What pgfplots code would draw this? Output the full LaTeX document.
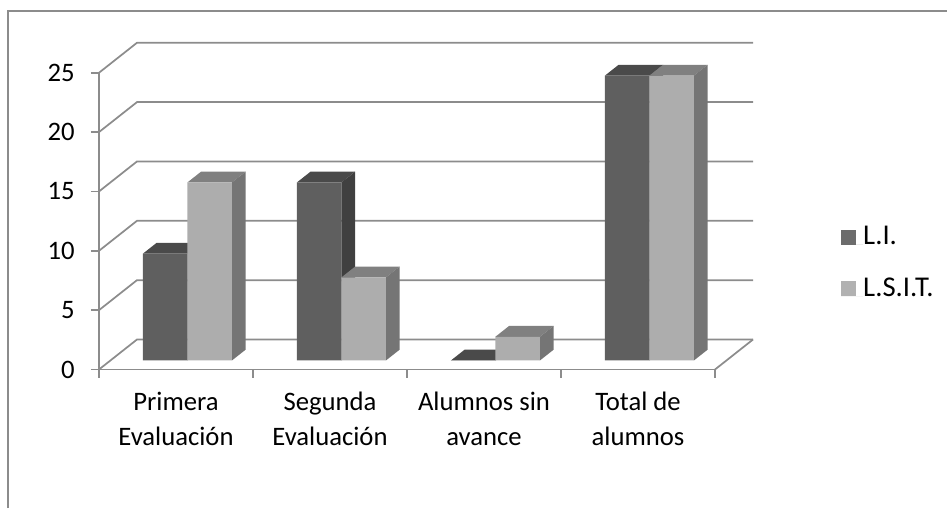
\documentclass[border=0pt]{standalone}
\usepackage{pgfplots}
\pgfplotsset{compat=1.18}
\usepackage{fontspec}
\setmainfont{Carlito}

\definecolor{darkfront}{HTML}{5F5F5F}
\definecolor{darktop}{HTML}{4A4A4A}
\definecolor{darkside}{HTML}{404040}
\definecolor{lightfront}{HTML}{ADADAD}
\definecolor{lighttop}{HTML}{808080}
\definecolor{lightside}{HTML}{757575}
\definecolor{gridgray}{HTML}{8C8C8C}

% one bar: x from, x to, value, colour prefix
\newcommand{\cuboid}[4]{
  \addplot3[fill=#4top,draw=none] coordinates {(#1,0.3,#3) (#2,0.3,#3) (#2,0.66,#3) (#1,0.66,#3) (#1,0.3,#3)};
  \addplot3[fill=#4side,draw=none] coordinates {(#2,0.3,0) (#2,0.66,0) (#2,0.66,#3) (#2,0.3,#3) (#2,0.3,0)};
  \addplot3[fill=#4front,draw=none] coordinates {(#1,0.3,0) (#2,0.3,0) (#2,0.3,#3) (#1,0.3,#3) (#1,0.3,0)};
}

\begin{document}
\begin{tikzpicture}[x=0.75pt,y=0.75pt]
  \useasboundingbox (0,0) rectangle (947,508);
  \draw[gridgray,line width=1.3pt] (8,0) -- (8,497) -- (947,497);

  % walls, floor and bars
  \begin{axis}[
      at={(74.25pt,103.875pt)},anchor=south west,
      x={(115.5pt,0pt)},y={(28.5pt,22.5pt)},z={(0pt,8.9025pt)},
      xmin=-0.5,xmax=3.5,ymin=0,ymax=1,zmin=0,zmax=25,
      hide axis,clip=false,
    ]
    \pgfplotsinvokeforeach{0,5,10,15,20,25}{
      \addplot3[gridgray,line width=1.3pt] coordinates {(-0.5,0,#1) (-0.5,1,#1) (3.5,1,#1)};
    }
    \addplot3[gridgray,line width=1.3pt] coordinates {(3.5,1,0) (3.5,0,0)};

    \cuboid{-0.289}{0}{9}{dark}
    \cuboid{0}{0.289}{15}{light}
    \cuboid{0.711}{1}{15}{dark}
    \cuboid{1}{1.289}{7}{light}
    \cuboid{1.711}{2}{0}{dark}
    \cuboid{2}{2.289}{2}{light}
    \cuboid{2.711}{3}{24}{dark}
    \cuboid{3}{3.289}{24}{light}
  \end{axis}

  % axis lines, ticks, labels and legend
  \begin{axis}[
      at={(74.25pt,103.875pt)},anchor=south west,
      scale only axis,width=462pt,height=222.56pt,
      xmin=-0.5,xmax=3.5,ymin=0,ymax=25,
      axis x line=bottom,axis y line=left,
      axis line style={gridgray,line width=1.3pt,-},
      tick style={gridgray,line width=1.3pt},
      tick align=outside,major tick length=6pt,
      xtick={-0.5,0.5,1.5,2.5,3.5},xticklabels={},
      extra x ticks={0,1,2,3},
      extra x tick style={major tick length=0pt,
        xticklabel style={align=center,font=\fontsize{20}{26.5}\selectfont,inner sep=0pt,yshift=-16.5pt}},
      extra x tick labels={Primera\\Evaluación,Segunda\\Evaluación,Alumnos sin\\avance,Total de\\alumnos},
      ytick={0,5,10,15,20,25},
      yticklabel style={font=\fontsize{20}{22}\selectfont,inner sep=0pt,xshift=-12pt},
      /pgf/number format/assume math mode=true,
      clip=false,
      legend style={at={(1.2045,0.361)},anchor=west,draw=none,fill=none,
        inner sep=0pt,font=\fontsize{21.5}{24}\selectfont,
        row sep=23pt,
        nodes={inner sep=0pt,anchor=base west}},
      legend cell align=left,
      legend image code/.code={\path (0pt,0pt) -- (16.5pt,0pt);\fill[#1] (0pt,-0.2pt) rectangle (11.25pt,11.05pt);},
    ]
    \addlegendimage{fill=darkfront!92!white,draw=none}
    \addlegendentry{L.I.}
    \addlegendimage{fill=lightfront!95!white,draw=none}
    \addlegendentry{L.S.I.T.}
  \end{axis}
\end{tikzpicture}
\end{document}
